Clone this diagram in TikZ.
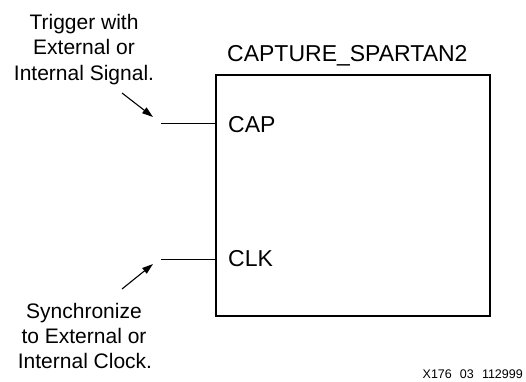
\documentclass[tikz,border=0pt]{standalone}
\usepackage{fontspec}
\setmainfont{Liberation Sans}
\usetikzlibrary{arrows.meta}
\tikzset{
  lbl/.style={inner sep=0pt, anchor=base, font=\fontsize{21}{25}\selectfont},
  pinlbl/.style={inner sep=0pt, anchor=base west, font=\fontsize{23}{27}\selectfont},
  wire/.style={line width=1pt},
  pointer/.style={line width=1.1pt, -{Triangle[length=11pt,width=7pt]}},
}
\begin{document}
\begin{tikzpicture}[x=1pt,y=-1pt]
\useasboundingbox (0,0) rectangle (526,381);
% block
\node[draw, line width=2pt, minimum width=274pt, minimum height=241pt, inner sep=0pt, anchor=north west] (blk) at (215,74) {};
\node[pinlbl] (title) at (227,61) {CAPTURE\_SPARTAN2};
\node[pinlbl] (cap) at (228,132) {CAP};
\node[pinlbl] (clk) at (228,266) {CLK};
% pins
\coordinate (capend) at (161,123);
\coordinate (clkend) at (161,259);
\draw[wire] (capend) -- (capend -| blk.west);
\draw[wire] (clkend) -- (clkend -| blk.west);
% top label
\node[lbl] (t1) at (84,29) {Trigger with};
\node[lbl] (t2) at (84,54.5) {External or};
\node[lbl] (t3) at (84,80) {Internal Signal.};
\coordinate (a1s) at (122,93);
\coordinate (a1e) at (153,117);
\draw[pointer] (a1s) -- (a1e);
% bottom label
\node[lbl] (b1) at (84,318) {Synchronize};
\node[lbl] (b2) at (84,343) {to External or};
\node[lbl] (b3) at (85,368) {Internal Clock.};
\coordinate (a2s) at (122,289);
\coordinate (a2e) at (153,264);
\draw[pointer] (a2s) -- (a2e);
% figure id
\node[inner sep=0pt, anchor=base east, font=\fontsize{12.5}{14}\selectfont] (fid) at (523,378) {X176\hspace{0.65em}03\hspace{0.65em}112999};
\end{tikzpicture}
\end{document}
